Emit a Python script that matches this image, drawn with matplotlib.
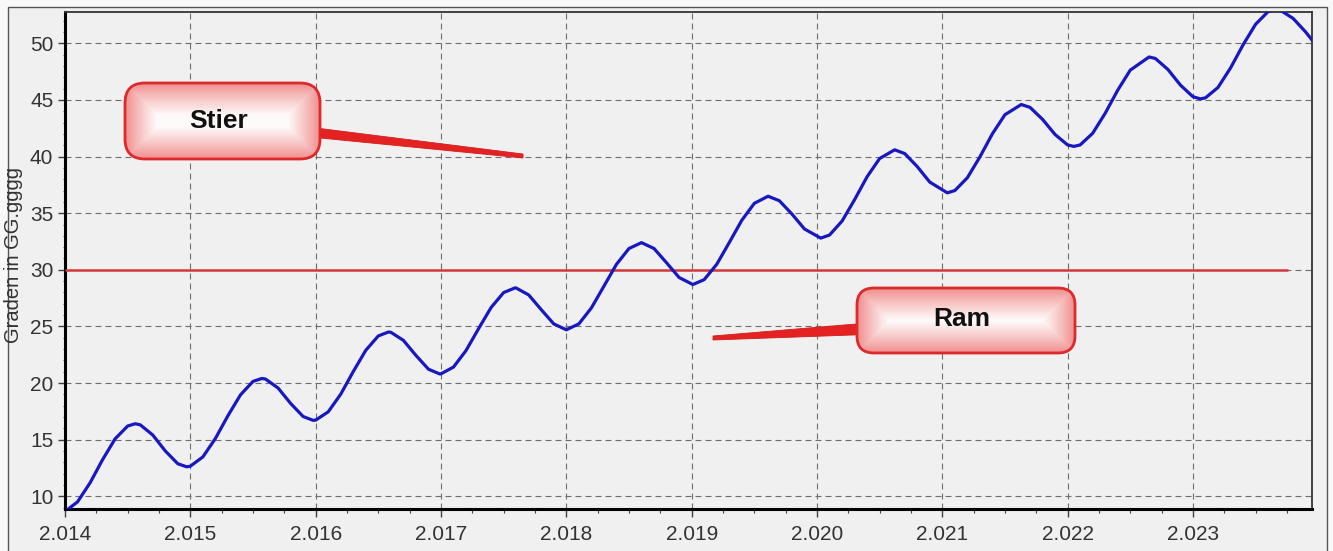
import matplotlib
matplotlib.use("Agg")
import matplotlib.pyplot as plt
import numpy as np
from matplotlib.patches import FancyBboxPatch, Polygon, Rectangle
from matplotlib.ticker import FixedLocator, MultipleLocator

# ---------------- data ----------------
years = [
    2014.00, 2014.10, 2014.20, 2014.30, 2014.40, 2014.50, 2014.56, 2014.60, 2014.70, 2014.80, 2014.90, 2014.97,
    2015.00, 2015.10, 2015.20, 2015.30, 2015.40, 2015.50, 2015.57, 2015.60, 2015.70, 2015.80, 2015.90, 2015.98,
    2016.00, 2016.10, 2016.20, 2016.30, 2016.40, 2016.50, 2016.58, 2016.60, 2016.70, 2016.80, 2016.90, 2016.99,
    2017.00, 2017.10, 2017.20, 2017.30, 2017.40, 2017.50, 2017.59, 2017.60, 2017.70, 2017.80, 2017.90,
    2018.00, 2018.10, 2018.20, 2018.30, 2018.40, 2018.50, 2018.60, 2018.70, 2018.80, 2018.90, 2019.01,
    2019.10, 2019.20, 2019.30, 2019.40, 2019.50, 2019.61, 2019.70, 2019.80, 2019.90, 2020.03,
    2020.10, 2020.20, 2020.30, 2020.40, 2020.50, 2020.62, 2020.70, 2020.80, 2020.90, 2021.04,
    2021.10, 2021.20, 2021.30, 2021.40, 2021.50, 2021.63, 2021.70, 2021.80, 2021.90, 2022.00, 2022.05,
    2022.10, 2022.20, 2022.30, 2022.40, 2022.50, 2022.65, 2022.70, 2022.80, 2022.90, 2023.00, 2023.06,
    2023.10, 2023.20, 2023.30, 2023.40, 2023.50, 2023.60, 2023.66, 2023.70, 2023.80, 2023.90, 2023.95,
]
degrees = [
    8.65, 9.50, 11.18, 13.23, 15.07, 16.20, 16.40, 16.31, 15.41, 14.00, 12.87, 12.60,
    12.65, 13.47, 15.10, 17.11, 18.95, 20.14, 20.40, 20.35, 19.56, 18.20, 17.04, 16.70,
    16.72, 17.45, 19.01, 21.01, 22.89, 24.16, 24.50, 24.48, 23.77, 22.44, 21.22, 20.80,
    20.81, 21.41, 22.87, 24.80, 26.67, 27.99, 28.40, 28.39, 27.78, 26.48, 25.22,
    24.70, 25.22, 26.63, 28.55, 30.48, 31.88, 32.40, 31.88, 30.62, 29.32, 28.70,
    29.13, 30.48, 32.40, 34.37, 35.87, 36.50, 36.10, 34.93, 33.61, 32.80,
    33.07, 34.30, 36.19, 38.22, 39.83, 40.60, 40.27, 39.12, 37.75, 36.80,
    37.00, 38.13, 39.97, 42.02, 43.70, 44.60, 44.35, 43.29, 41.95, 41.03, 40.90,
    41.03, 42.06, 43.83, 45.87, 47.64, 48.80, 48.67, 47.70, 46.32, 45.29, 45.10,
    45.19, 46.11, 47.83, 49.87, 51.69, 52.81, 53.00, 52.91, 52.20, 51.00, 50.30,
]
boundary_years = [2014.0, 2023.76]
boundary_deg = [30.0, 30.0]
xtick_years = [2014, 2015, 2016, 2017, 2018, 2019, 2020, 2021, 2022, 2023]
xtick_labels = ["2.014", "2.015", "2.016", "2.017", "2.018", "2.019",
                "2.020", "2.021", "2.022", "2.023"]
ytick_values = [10, 15, 20, 25, 30, 35, 40, 45, 50]
ylabel_text = "Graden in GG.gggg"
callout_labels = ["Stier", "Ram"]

# ---------------- figure ----------------
W, H, DPI = 1333, 551, 100
plt.rcParams['font.family'] = ['Liberation Sans', 'DejaVu Sans']
plt.rcParams['lines.scale_dashes'] = False

fig = plt.figure(figsize=(W / DPI, H / DPI), dpi=DPI, facecolor='#f8f8f8')


def fx(px):
    return px / W


def fy(py):
    return 1 - py / H


# outer frame
fig.patches.append(Rectangle((fx(8), fy(600)), fx(1327) - fx(8), fy(7) - fy(600),
                             transform=fig.transFigure, facecolor='#f0f0f0',
                             edgecolor='#555555', lw=1.0, zorder=-5))

L, R, T, B = 65, 1312, 11.7, 509
ax = fig.add_axes([fx(L), fy(B), fx(R) - fx(L), fy(T) - fy(B)])
ax.set_facecolor('#f0f0f0')
ax.set_xlim(2014.0, 2023.95)
ax.set_ylim(8.87, 52.8)

ax.xaxis.set_major_locator(FixedLocator(xtick_years))
ax.set_xticklabels(xtick_labels)
ax.xaxis.set_minor_locator(MultipleLocator(0.25))
ax.yaxis.set_major_locator(FixedLocator(ytick_values))
ax.yaxis.set_minor_locator(MultipleLocator(1))

ax.grid(True, which='major', color='#6e6e6e', linestyle=(0, (4.3, 2.9)), linewidth=0.8, zorder=1)
ax.set_axisbelow(True)

ax.tick_params(axis='x', which='major', direction='out', length=5.8, width=1, color='#404040',
               labelsize=15, labelcolor='#333333', pad=6)
ax.tick_params(axis='x', which='minor', direction='out', length=3, width=0.8, color='#404040')
ax.tick_params(axis='y', which='major', direction='out', length=5, width=1, color='#404040',
               labelsize=15, labelcolor='#333333', pad=3.4)
ax.tick_params(axis='y', which='minor', direction='out', length=1.5, width=0.8, color='#606060')

for s in ('left', 'bottom'):
    ax.spines[s].set_linewidth(2.2)
    ax.spines[s].set_color('#000000')
for s in ('top', 'right'):
    ax.spines[s].set_linewidth(1.3)
    ax.spines[s].set_color('#333333')

ax.plot(boundary_years, boundary_deg, color='#d43838', lw=1.8, zorder=3, solid_capstyle='butt')
ax.plot(years, degrees, color='#1818c0', lw=2.3, zorder=4)

fig.text(fx(14), fy(255), ylabel_text, rotation=90, ha='center', va='center',
         fontsize=14.5, color='#333333')

# ---------------- callouts (overlay in pixel coords) ----------------
ov = fig.add_axes([0, 0, 1, 1], zorder=5)
ov.patch.set_alpha(0)
ov.axis('off')


def callout(x0, y0, x1, y1, r, label, tx, ty, wedge):
    ov.add_patch(Polygon(wedge, closed=True, facecolor='#e52222', edgecolor='#d41c1c',
                         lw=0.6, zorder=2))
    box = FancyBboxPatch((x0, y0), x1 - x0, y1 - y0,
                         boxstyle=f"round,pad=0,rounding_size={r}",
                         facecolor='none', edgecolor='#dc2a2a', lw=2.0, zorder=4)
    ov.add_patch(box)
    nx, ny = int(x1 - x0), int(y1 - y0)
    X, Y = np.meshgrid(np.arange(nx) + 0.5, np.arange(ny) + 0.5)
    d = np.minimum.reduce([X, nx - X, Y, ny - Y])
    t = np.clip(d / 32.0, 0, 1) ** 0.9
    edge = np.array([240, 138, 138]) / 255
    center = np.array([255, 250, 250]) / 255
    img = edge + (center - edge) * t[..., None]
    im = ov.imshow(img, extent=(x0, x1, y1, y0), zorder=3, interpolation='bilinear')
    im.set_clip_path(box)
    ov.text(tx, ty, label, ha='center', va='center', fontsize=19, fontweight='bold',
            color='#111111', zorder=5)


callout(125, 83, 320, 159, 20, callout_labels[0], 219, 121,
        [(300, 126), (300, 136), (523, 158), (523, 154)])
callout(857, 288, 1075, 353, 17, callout_labels[1], 962, 319,
        [(880, 322), (880, 334), (713, 340), (713, 336)])

ov.set_xlim(0, W)
ov.set_ylim(H, 0)
ov.set_aspect('auto')

fig.savefig('out.png', dpi=DPI, facecolor=fig.get_facecolor())
